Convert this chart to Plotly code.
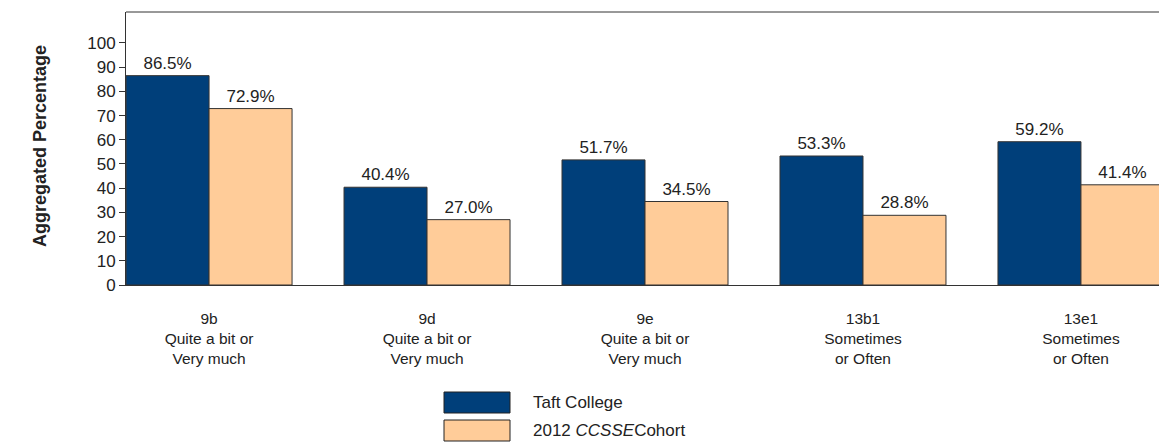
import plotly.graph_objects as go

categories = ["9b<br>Quite a bit or<br>Very much",
              "9d<br>Quite a bit or<br>Very much",
              "9e<br>Quite a bit or<br>Very much",
              "13b1<br>Sometimes<br>or Often",
              "13e1<br>Sometimes<br>or Often"]
taft = [86.5, 40.4, 51.7, 53.3, 59.2]
cohort = [72.9, 27.0, 34.5, 28.8, 41.4]
series_names = ["Taft College", "2012 <i>CCSSE</i>Cohort"]
colors = ["#003F7A", "#FFCC99"]
y_ticks = [0, 10, 20, 30, 40, 50, 60, 70, 80, 90, 100]

FONT = "Arial, Liberation Sans, sans-serif"
W, H = 1159, 447
L, R, T, B = 126, 0, 12, 162
pw, ph = W - L - R, H - T - B

fig = go.Figure()
for vals, name, col in zip([taft, cohort], series_names, colors):
    fig.add_trace(go.Bar(
        x=list(range(len(categories))), y=vals, name=name,
        marker=dict(color=col, line=dict(color="#333333", width=1)),
        text=[f"{v:.1f}%" for v in vals], textposition="outside",
        textfont=dict(size=17, color="#222222", family=FONT),
        cliponaxis=False, showlegend=False,
    ))

fig.update_layout(
    width=W, height=H, margin=dict(l=L, r=R, t=T, b=B),
    plot_bgcolor="white", paper_bgcolor="white",
    barmode="group", bargap=0.2385, bargroupgap=0,
    font=dict(family=FONT, color="#222222"),
    xaxis=dict(range=[-0.381, 4.358], tickmode="array",
               tickvals=list(range(len(categories))), ticktext=categories,
               tickfont=dict(size=15.5, family=FONT, color="#222222"),
               ticks="outside", ticklen=19, tickcolor="rgba(0,0,0,0)",
               showline=True, linecolor="#333333", linewidth=1,
               showgrid=False, zeroline=False),
    yaxis=dict(range=[0, 112.8], tickmode="array", tickvals=y_ticks,
               tickfont=dict(size=17, family=FONT, color="#222222"),
               ticks="outside", ticklen=6, tickcolor="#333333",
               showline=True, linecolor="#333333", linewidth=1,
               showgrid=False, zeroline=False),
)

# top frame line
fig.add_shape(type="line", xref="paper", yref="paper", x0=0, x1=1, y0=1, y1=1,
              line=dict(color="#333333", width=1))


def px_x(p):
    return (p - L) / pw


def px_y(p):
    return (H - B - p) / ph


# y-axis title
fig.add_annotation(text="<b>Aggregated Percentage</b>", xref="paper", yref="paper",
                   x=px_x(40), y=px_y(146), textangle=-90, showarrow=False,
                   xanchor="center", yanchor="middle",
                   font=dict(size=18, family=FONT, color="#222222"))

# custom legend
leg_rows = [(392, 413), (420, 441)]
for (y0, y1), name, col in zip(leg_rows, series_names, colors):
    fig.add_shape(type="rect", xref="paper", yref="paper",
                  x0=px_x(444), x1=px_x(510), y0=px_y(y1), y1=px_y(y0),
                  fillcolor=col, line=dict(color="#222222", width=1))
    fig.add_annotation(text=name, xref="paper", yref="paper",
                       x=px_x(531), y=px_y((y0 + y1) / 2), showarrow=False,
                       xanchor="left", yanchor="middle",
                       font=dict(size=17, family=FONT, color="#222222"))

fig.write_html("out.html",
               config={"displayModeBar": False},
               post_script="document.body.style.margin='0';"
                           "document.body.style.overflow='hidden';")
